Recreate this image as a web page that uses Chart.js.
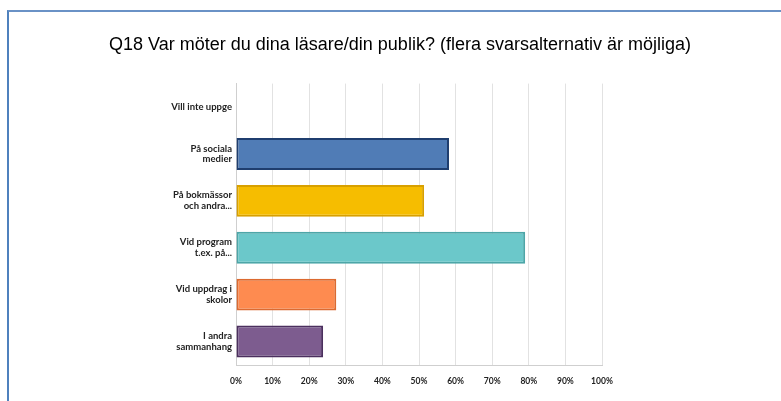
<!DOCTYPE html>
<html>
<head>
<meta charset="utf-8">
<script src="https://cdn.jsdelivr.net/npm/chart.js@4/dist/chart.umd.min.js"></script>
<style>
  html, body { margin: 0; padding: 0; background: #fff; }
  #wrap { position: relative; width: 781px; height: 401px; overflow: hidden; }
  #frame {
    position: absolute; left: 7px; top: 10px; width: 800px; height: 420px;
    border-left: 2px solid #4f81bd; border-top: 2px solid #6a92c6;
  }
  canvas { position: absolute; left: 0; top: 0; }
</style>
</head>
<body>
<div id="wrap">
  <div id="frame"></div>
  <canvas id="myChart" width="781" height="401"></canvas>
</div>
<script>
var titleText = 'Q18 Var möter du dina läsare/din publik? (flera svarsalternativ är möjliga)';
var categories = [
  'Vill inte uppge',
  ['På sociala', 'medier'],
  ['På bokmässor', 'och andra...'],
  ['Vid program', 't.ex. på...'],
  ['Vid uppdrag i', 'skolor'],
  ['I andra', 'sammanhang']
];
var percentValues = [0, 58.2, 51.4, 79.0, 27.4, 23.8];
var fillColors = ['#888888', '#507cb6', '#f6bd00', '#6bc8ca', '#fe8b50', '#7d5c8f'];
var edgeColors = ['#666666', '#1f3e6f', '#d8a000', '#4da6a8', '#dc6a30', '#4b2f5e'];
var tickValues = [0, 10, 20, 30, 40, 50, 60, 70, 80, 90, 100];

// title is centred on the whole frame, not just the plot
var shiftTitle = {
  id: 'shiftTitle',
  afterLayout: function (chart) {
    if (chart.titleBlock) {
      chart.titleBlock.left += 100;
      chart.titleBlock.right += 98;
    }
  }
};

new Chart('myChart', {
  type: 'bar',
  data: {
    labels: categories,
    datasets: [{
      data: percentValues,
      backgroundColor: fillColors,
      borderColor: edgeColors,
      borderWidth: 2,
      borderSkipped: false,
      categoryPercentage: 1,
      barPercentage: 0.68
    }]
  },
  plugins: [shiftTitle],
  options: {
    indexAxis: 'y',
    responsive: false,
    animation: false,
    layout: { padding: { left: 0, right: 179, top: 0, bottom: 0 } },
    plugins: {
      legend: { display: false },
      tooltip: { enabled: false },
      title: {
        display: true,
        text: titleText,
        color: '#000',
        font: { family: 'Arial', size: 18, weight: 'normal', lineHeight: 1.2 },
        padding: { top: 34, bottom: 28 }
      }
    },
    scales: {
      x: {
        min: 0,
        max: 100,
        afterBuildTicks: function (scale) {
          scale.ticks = tickValues.map(function (v) { return { value: v }; });
        },
        afterFit: function (scale) { scale.height = 36; },
        grid: { color: '#e2e2e2', lineWidth: 1, drawTicks: false },
        border: { color: '#cfcfcf', width: 1 },
        ticks: {
          padding: 11,
          color: '#222',
          font: { family: 'Lato', size: 8.5, weight: 'bold' },
          maxRotation: 0,
          autoSkip: false,
          callback: function (v) { return v + '%'; }
        }
      },
      y: {
        afterFit: function (scale) { scale.width = 236; },
        grid: { display: false, drawTicks: false },
        border: { color: '#cfcfcf', width: 1 },
        ticks: {
          padding: 4,
          color: '#222',
          font: { family: 'Lato', size: 9.5, weight: 'bold', lineHeight: 1.15 },
          autoSkip: false
        }
      }
    }
  }
});
</script>
</body>
</html>
